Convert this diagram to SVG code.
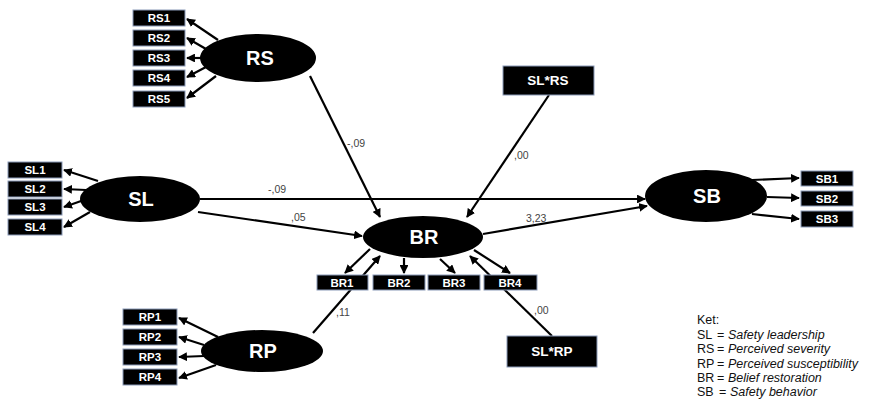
<svg xmlns="http://www.w3.org/2000/svg" width="870" height="400" viewBox="0 0 870 400">
  <defs>
    <marker id="arr" viewBox="0 0 10 10" refX="9" refY="5" markerWidth="4" markerHeight="4" orient="auto" markerUnits="strokeWidth">
      <path d="M0,0 L10,5 L0,10 z" fill="#000"/>
    </marker>
    <style>
      .box { fill: #000; stroke: #8a9ab8; stroke-width: 1; }
      .lv { fill: #000; }
      .bt { font-family: "Liberation Sans", Arial, sans-serif; font-size: 11.5px; font-weight: bold; fill: #fff; text-anchor: middle; }
      .et { font-family: "Liberation Sans", Arial, sans-serif; font-size: 20px; font-weight: bold; fill: #fff; text-anchor: middle; }
      .ln { stroke: #000; stroke-width: 2.2; fill: none; marker-end: url(#arr); }
      .lb { font-family: "Liberation Sans", Arial, sans-serif; font-size: 10.5px; fill: #444; }
      .lg { font-family: "Liberation Sans", Arial, sans-serif; font-size: 12.5px; fill: #111; }
      .it { font-style: italic; }
    </style>
  </defs>
  <rect width="870" height="400" fill="#fff"/>

  <!-- connectors -->
  <g id="connectors">
    <!-- RS indicators -->
    <line class="ln" x1="218" y1="40" x2="187" y2="19"/>
    <line class="ln" x1="206" y1="49" x2="187" y2="38"/>
    <line class="ln" x1="202" y1="58" x2="187" y2="58"/>
    <line class="ln" x1="206" y1="67" x2="187" y2="77"/>
    <line class="ln" x1="216" y1="76" x2="187" y2="98"/>
    <!-- SL indicators -->
    <line class="ln" x1="98" y1="181" x2="64" y2="170"/>
    <line class="ln" x1="86" y1="190" x2="64" y2="189"/>
    <line class="ln" x1="84" y1="200" x2="64" y2="207"/>
    <line class="ln" x1="90" y1="212" x2="64" y2="227"/>
    <!-- RP indicators -->
    <line class="ln" x1="218" y1="337" x2="179" y2="318"/>
    <line class="ln" x1="204" y1="345" x2="179" y2="337"/>
    <line class="ln" x1="204" y1="356" x2="179" y2="357"/>
    <line class="ln" x1="216" y1="365" x2="179" y2="378"/>
    <!-- SB indicators -->
    <line class="ln" x1="752" y1="180" x2="799" y2="178"/>
    <line class="ln" x1="767" y1="197" x2="799" y2="198"/>
    <line class="ln" x1="752" y1="214" x2="799" y2="219"/>
    <!-- BR indicators -->
    <line class="ln" x1="370" y1="249" x2="345" y2="273"/>
    <line class="ln" x1="404" y1="258" x2="404" y2="273"/>
    <line class="ln" x1="440" y1="259" x2="455" y2="273"/>
    <line class="ln" x1="474" y1="250" x2="510" y2="273"/>
    <!-- structural paths -->
    <line class="ln" x1="310" y1="76" x2="380" y2="217"/>
    <line class="ln" x1="200" y1="199" x2="645" y2="199"/>
    <line class="ln" x1="198" y1="212" x2="362" y2="236"/>
    <line class="ln" x1="483" y1="234" x2="647" y2="206"/>
    <line class="ln" x1="549" y1="95" x2="467" y2="217"/>
    <line class="ln" x1="313" y1="333" x2="380" y2="256"/>
    <line class="ln" x1="552" y1="336" x2="470" y2="256"/>
  </g>

  <!-- path coefficients -->
  <g id="labels">
    <text class="lb" x="347" y="147">-,09</text>
    <text class="lb" x="268" y="193">-,09</text>
    <text class="lb" x="291" y="221">,05</text>
    <text class="lb" x="526" y="222">3,23</text>
    <text class="lb" x="514" y="159">,00</text>
    <text class="lb" x="336" y="316">,11</text>
    <text class="lb" x="534" y="314">,00</text>
  </g>

  <!-- RS -->
  <g id="RS">
    <ellipse class="lv" cx="258" cy="58" rx="58" ry="24"/>
    <text class="et" x="260" y="65">RS</text>
  </g>
  <g id="RS1"><rect class="box" x="133" y="10" width="52" height="16"/><text class="bt" x="159" y="22">RS1</text></g>
  <g id="RS2"><rect class="box" x="133" y="30" width="52" height="16"/><text class="bt" x="159" y="42">RS2</text></g>
  <g id="RS3"><rect class="box" x="133" y="50" width="52" height="16"/><text class="bt" x="159" y="62">RS3</text></g>
  <g id="RS4"><rect class="box" x="133" y="70" width="52" height="16"/><text class="bt" x="159" y="82">RS4</text></g>
  <g id="RS5"><rect class="box" x="133" y="91" width="52" height="16"/><text class="bt" x="159" y="103">RS5</text></g>

  <!-- SL -->
  <g id="SL">
    <ellipse class="lv" cx="140" cy="199" rx="60" ry="23"/>
    <text class="et" x="141" y="206">SL</text>
  </g>
  <g id="SL1"><rect class="box" x="8" y="162" width="54" height="16"/><text class="bt" x="35" y="174">SL1</text></g>
  <g id="SL2"><rect class="box" x="8" y="181" width="54" height="16"/><text class="bt" x="35" y="193">SL2</text></g>
  <g id="SL3"><rect class="box" x="8" y="199" width="54" height="16"/><text class="bt" x="35" y="211">SL3</text></g>
  <g id="SL4"><rect class="box" x="8" y="219" width="54" height="16"/><text class="bt" x="35" y="231">SL4</text></g>

  <!-- RP -->
  <g id="RP">
    <ellipse class="lv" cx="262" cy="351" rx="61" ry="21"/>
    <text class="et" x="263" y="358">RP</text>
  </g>
  <g id="RP1"><rect class="box" x="123" y="309" width="54" height="16"/><text class="bt" x="150" y="321">RP1</text></g>
  <g id="RP2"><rect class="box" x="123" y="329" width="54" height="16"/><text class="bt" x="150" y="341">RP2</text></g>
  <g id="RP3"><rect class="box" x="123" y="349" width="54" height="16"/><text class="bt" x="150" y="361">RP3</text></g>
  <g id="RP4"><rect class="box" x="123" y="369" width="54" height="16"/><text class="bt" x="150" y="381">RP4</text></g>

  <!-- BR -->
  <g id="BR">
    <ellipse class="lv" cx="423" cy="237" rx="60" ry="21"/>
    <text class="et" x="424" y="244">BR</text>
  </g>
  <g id="BR1"><rect class="box" x="317" y="275" width="51" height="15"/><text class="bt" x="342" y="287">BR1</text></g>
  <g id="BR2"><rect class="box" x="373" y="275" width="52" height="15"/><text class="bt" x="399" y="287">BR2</text></g>
  <g id="BR3"><rect class="box" x="428" y="275" width="52" height="15"/><text class="bt" x="454" y="287">BR3</text></g>
  <g id="BR4"><rect class="box" x="484" y="275" width="53" height="15"/><text class="bt" x="510" y="287">BR4</text></g>

  <!-- SB -->
  <g id="SB">
    <ellipse class="lv" cx="706" cy="196" rx="61" ry="26"/>
    <text class="et" x="707" y="203">SB</text>
  </g>
  <g id="SB1"><rect class="box" x="801" y="171" width="52" height="15"/><text class="bt" x="827" y="183">SB1</text></g>
  <g id="SB2"><rect class="box" x="801" y="191" width="52" height="15"/><text class="bt" x="827" y="203">SB2</text></g>
  <g id="SB3"><rect class="box" x="801" y="211" width="52" height="16"/><text class="bt" x="827" y="223">SB3</text></g>

  <!-- moderators -->
  <g id="SLxRS"><rect class="box" x="503" y="66" width="91" height="29"/><text class="bt" x="548" y="85" style="font-size:13.5px">SL*RS</text></g>
  <g id="SLxRP"><rect class="box" x="507" y="336" width="90" height="31"/><text class="bt" x="552" y="356" style="font-size:13.5px">SL*RP</text></g>

  <!-- legend -->
  <g id="legend">
    <text class="lg" x="697" y="324">Ket:</text>
    <text class="lg" x="697" y="338.5">SL</text><text class="lg" x="717" y="338.5">=</text><text class="lg it" x="728" y="338.5">Safety leadership</text>
    <text class="lg" x="697" y="353">RS</text><text class="lg" x="717" y="353">=</text><text class="lg it" x="728" y="353">Perceived severity</text>
    <text class="lg" x="697" y="367.5">RP</text><text class="lg" x="717" y="367.5">=</text><text class="lg it" x="728" y="367.5">Perceived susceptibility</text>
    <text class="lg" x="697" y="382">BR</text><text class="lg" x="717" y="382">=</text><text class="lg it" x="728" y="382">Belief restoration</text>
    <text class="lg" x="697" y="396">SB</text><text class="lg" x="719" y="396">=</text><text class="lg it" x="730" y="396">Safety behavior</text>
  </g>
</svg>
